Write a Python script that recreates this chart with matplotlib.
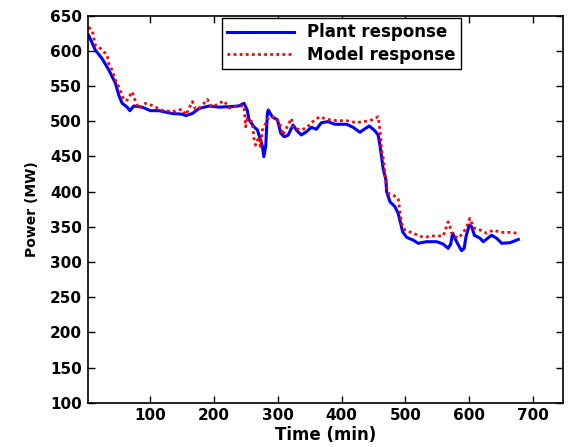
import matplotlib
matplotlib.use("Agg")
import matplotlib.pyplot as plt

# ── Data ────────────────────────────────────────────────────────────────────
plant_t = [3.6, 14, 24.6, 35, 45.5, 50.7, 56, 63.9, 68, 74.3, 87.4, 100.5,
           113.6, 134.5, 150, 155.9, 166, 176.4, 192, 207.8, 223.5, 239, 247,
           252, 254.9, 262.7, 268, 273, 275.9, 278, 281, 283.6, 285, 291.5,
           299.4, 304.6, 309.8, 316, 323.9, 329, 336.9, 344.7, 352.6, 360.4,
           368.3, 378.7, 389.3, 407.7, 418, 428.6, 433.8, 443.3, 452, 457.3,
           460, 462.6, 465, 469.4, 470.5, 475.7, 483.5, 488.7, 492.5, 495.6,
           501.9, 512.3, 520, 533, 549, 559, 567, 571, 574, 579, 584.5, 588,
           592, 595, 600, 604, 608, 617, 622, 635, 643, 651, 664, 677]
plant_p = [622, 601, 589, 573, 554, 537, 525.5, 520, 515, 521.7, 520, 515,
           515, 511, 510, 508, 511, 518, 521.7, 520, 520.7, 521.7, 525.5,
           516, 502, 492, 487.6, 473, 464, 449.6, 464, 511, 516, 506,
           502, 483, 478, 480, 494.7, 487.6, 480.5, 485, 491.4, 488.6,
           498, 499.4, 495.7, 495.7, 491.4, 484.3, 487.6, 493.3, 486.6, 480.5,
           466, 449.6, 433, 416.5, 400, 385.7, 378.6, 369, 355, 343,
           335, 331, 326.5, 328.8, 328.8, 325.5, 319.4, 325.5, 340.8, 331, 321.7, 316,
           319.4, 336, 352.6, 350, 338, 333.7, 328.8, 338, 333.7, 326.5, 327.4, 332]

model_t = [3.6, 9, 14, 19, 27, 32.5, 35, 40, 45.5, 50.7, 56, 58.6, 64, 71.7,
           77, 82, 92.6, 105.7, 116, 134.5, 150, 155.9, 166, 171, 179, 189.5,
           197, 215.6, 223.5, 239, 247, 249.6, 252, 260, 262.6, 265, 270.5,
           273, 275.9, 281, 286, 296.7, 303, 308, 321.4, 323.9, 334.4, 344.7,
           352.6, 365.8, 376.3, 392, 407.7, 423.4, 433.8, 444.3, 452, 457.3,
           460, 462.6, 465.8, 467.8, 470.5, 473, 480.9, 488.7, 491.4, 494,
           499, 512.3, 528, 543.7, 559.4, 567, 570, 572.6, 578, 583, 590, 596,
           601, 607, 617, 627.6, 638, 648.6, 664, 677]
model_p = [633.5, 629.6, 608, 606, 599, 594, 582, 573, 558.6, 549, 537, 530,
           530, 542, 528, 518, 525.5, 521.7, 516, 513.6, 517, 509, 528, 517,
           520, 531, 520, 529, 519, 521.7, 521.7, 492, 504, 499, 475.8, 466,
           478, 464, 487.6, 497, 506, 506, 497, 480.5, 504, 491.4, 487.6, 490,
           498, 506.5, 502.8, 500.8, 500.8, 498, 499.4, 500.8, 504, 506.5,
           487.6, 459, 445, 426, 407, 397.6, 395, 390.5, 371.5, 355,
           345.5, 340.8, 335, 337, 337, 357, 350, 340.8, 336, 333.7, 340.8, 350,
           362, 348.6, 345.5, 340.8, 345.5, 342, 342, 340.8]

XTICKS = [100, 200, 300, 400, 500, 600, 700]
YTICKS = list(range(100, 651, 50))

# ── Plot ────────────────────────────────────────────────────────────────────
plt.rcParams["font.family"] = "DejaVu Sans"
plt.rcParams["font.weight"] = "bold"

fig = plt.figure(figsize=(5.71, 4.47), dpi=100)
ax = fig.add_axes([0.1536, 0.0991, 0.8324, 0.8658])

ax.plot(plant_t, plant_p, color="#0000ff", lw=2.2, label="Plant response")
ax.plot(model_t, model_p, color="#ff0000", lw=2.0, linestyle=(0, (1, 1.2)),
        label="Model response")

ax.set_xlim(2, 747)
ax.set_ylim(100, 650)
ax.set_xticks(XTICKS)
ax.set_yticks(YTICKS)
ax.tick_params(direction="in", top=True, right=True, length=5, width=1,
               labelsize=11, pad=4)
for lab in ax.get_xticklabels() + ax.get_yticklabels():
    lab.set_fontweight("bold")
for s in ax.spines.values():
    s.set_linewidth(1.2)

ax.set_xlabel("Time (min)", fontsize=12, fontweight="bold", labelpad=2)
ax.set_ylabel("Power (MW)", fontsize=10, fontweight="bold", labelpad=8)

leg = ax.legend(loc="upper right", bbox_to_anchor=(0.785, 0.993),
                borderaxespad=0, fancybox=False, framealpha=1,
                edgecolor="black", handlelength=4, borderpad=0.3,
                labelspacing=0.25, prop={"size": 12, "weight": "bold"})
leg.get_frame().set_linewidth(1.0)

fig.savefig("out.png", dpi=100)
